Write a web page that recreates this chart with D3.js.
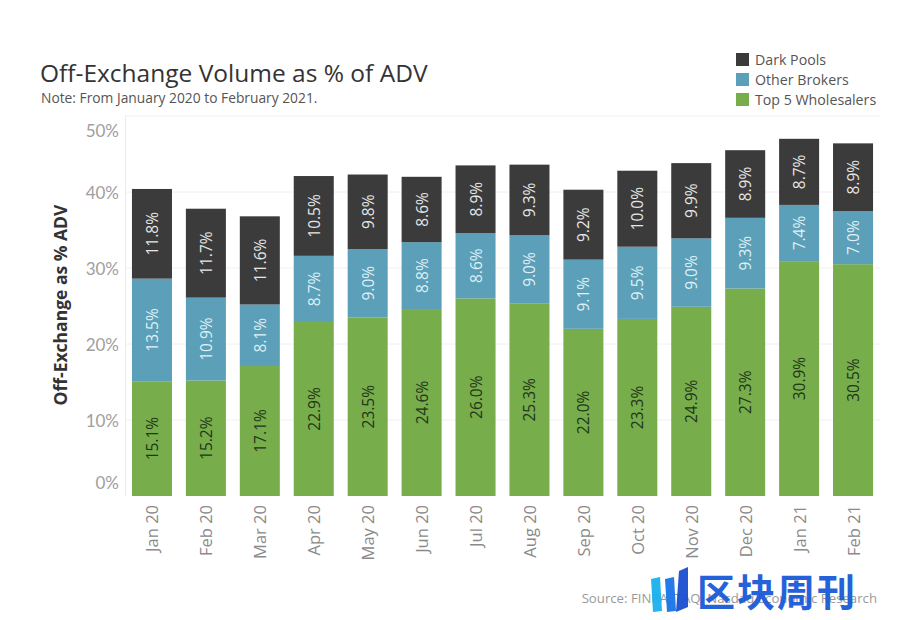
<!DOCTYPE html>
<html><head><meta charset="utf-8">
<script src="https://cdn.jsdelivr.net/npm/d3@7/dist/d3.min.js"></script>
<style>body{margin:0;background:#fff;font-family:"Open Sans","Noto Sans",sans-serif;}</style>
</head><body>
<svg id="c" width="898" height="620"></svg>
<script>
const months = ["Jan 20","Feb 20","Mar 20","Apr 20","May 20","Jun 20","Jul 20","Aug 20","Sep 20","Oct 20","Nov 20","Dec 20","Jan 21","Feb 21"];
const top5 = [15.1,15.2,17.1,22.9,23.5,24.6,26.0,25.3,22.0,23.3,24.9,27.3,30.9,30.5];
const otherBrokers = [13.5,10.9,8.1,8.7,9.0,8.8,8.6,9.0,9.1,9.5,9.0,9.3,7.4,7.0];
const darkPools = [11.8,11.7,11.6,10.5,9.8,8.6,8.9,9.3,9.2,10.0,9.9,8.9,8.7,8.9];
const yTicks = [0,10,20,30,40,50];
const seriesNames = ["Top 5 Wholesalers","Other Brokers","Dark Pools"];
const colors = {"Top 5 Wholesalers":"#77ad4b","Other Brokers":"#5b9fb8","Dark Pools":"#3b3b3b"};
const labelColors = {"Top 5 Wholesalers":"#22361a","Other Brokers":"#dff0f6","Dark Pools":"#e6e6e6"};

const svg = d3.select("#c");
const x = d3.scaleBand().domain(months).range([125,880]).paddingInner(0.258).paddingOuter(0.129);
const y = d3.scaleLinear().domain([0,50]).range([496,116]);

const table = months.map((m,i)=>({month:m,"Top 5 Wholesalers":top5[i],"Other Brokers":otherBrokers[i],"Dark Pools":darkPools[i]}));
const stacked = d3.stack().keys(seriesNames)(table);

// gridlines
svg.append("g").selectAll("line").data(yTicks.filter(t=>t>0)).join("line")
  .attr("x1",125).attr("x2",880).attr("y1",d=>y(d)).attr("y2",d=>y(d))
  .attr("stroke","#f0f0f0").attr("stroke-width",1);
svg.append("line").attr("x1",125.5).attr("x2",125.5).attr("y1",116).attr("y2",496).attr("stroke","#ececec");

// bars
const g = svg.append("g");
stacked.forEach(s=>{
  const name = s.key;
  g.append("g").selectAll("rect").data(s).join("rect")
    .attr("x",d=>x(d.data.month)).attr("width",x.bandwidth())
    .attr("y",d=>y(d[1])).attr("height",d=>y(d[0])-y(d[1]))
    .attr("fill",colors[name]);
  g.append("g").selectAll("text").data(s).join("text")
    .attr("transform",d=>{const cx=x(d.data.month)+x.bandwidth()/2, cy=(y(d[0])+y(d[1]))/2; return `translate(${cx},${cy}) rotate(-90)`;})
    .attr("text-anchor","middle").attr("dominant-baseline","central")
    .attr("font-size",15.5).attr("fill",labelColors[name])
    .text(d=>d.data[name].toFixed(1)+"%");
});

// y axis labels
svg.append("g").selectAll("text").data(yTicks).join("text")
  .attr("x",119).attr("y",d=> d===0 ? y(d)-7 : d===50 ? y(d)+21 : y(d)+7)
  .attr("text-anchor","end").attr("font-size",17).attr("fill","#9e9e9e")
  .attr("font-family","Lato, 'Open Sans', sans-serif")
  .text(d=>d+"%");
svg.append("text").attr("transform","translate(67,305) rotate(-90)")
  .attr("text-anchor","middle").attr("font-size",17.5).attr("font-weight","bold").attr("fill","#333")
  .text("Off-Exchange as % ADV");

// x axis labels
svg.append("g").selectAll("text").data(months).join("text")
  .attr("transform",d=>`translate(${x(d)+x.bandwidth()/2},505) rotate(-90)`)
  .attr("text-anchor","end").attr("dominant-baseline","central")
  .attr("font-size",16.5).attr("fill","#8a8a8a")
  .text(d=>d);

// title
svg.append("text").attr("x",40).attr("y",82).attr("font-size",24.5).attr("fill","#333").text("Off-Exchange Volume as % of ADV");
svg.append("text").attr("x",41).attr("y",103).attr("font-size",13.8).attr("fill","#555").text("Note: From January 2020 to February 2021.");

// legend
const leg = svg.append("g");
["Dark Pools","Other Brokers","Top 5 Wholesalers"].forEach((n,i)=>{
  leg.append("rect").attr("x",736).attr("y",53+i*20).attr("width",13).attr("height",13).attr("fill",colors[n]);
  leg.append("text").attr("x",755).attr("y",65+i*20).attr("font-size",14.2).attr("fill","#555").text(n);
});

// source
svg.append("text").attr("x",877).attr("y",603).attr("text-anchor","end").attr("font-size",13.2).attr("fill","#999")
  .text("Source: FINRA, TAQ, Nasdaq Economic Research");

// watermark
const wm = svg.append("g").attr("opacity",0.95);
wm.append("path").attr("d","M651,579 L660,577 L662,611 L653,612 Z").attr("fill","#1bb0ee");
wm.append("path").attr("d","M665,579 L674,577 L676,611 L667,612 Z").attr("fill","#1a73e8");
wm.append("path").attr("d","M679,571 L688,567 L688,607 L676,612 Z").attr("fill","#1a4fd0");
wm.append("text").attr("x",697).attr("y",606).attr("font-size",38).attr("font-weight","bold")
  .attr("fill","#1a5ad8").attr("font-family","'Noto Sans CJK SC',sans-serif").attr("letter-spacing",2).text("区块周刊");
</script>
</body></html>
